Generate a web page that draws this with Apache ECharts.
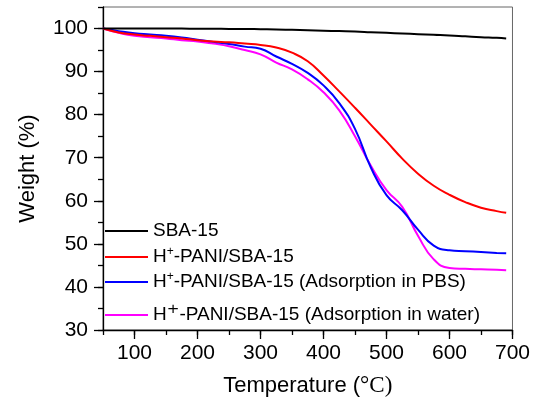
<!DOCTYPE html>
<html>
<head>
<meta charset="utf-8">
<script src="https://cdn.jsdelivr.net/npm/echarts@6/dist/echarts.min.js"></script>
<style>html,body{margin:0;padding:0;background:#fff}#c{width:533px;height:402px}</style>
</head>
<body>
<div id="c"></div>
<script>
var temps = [50, 75, 100, 125, 150, 175, 200, 225, 250, 275, 300, 325, 350, 375, 400, 425, 450, 475, 500, 525, 550, 575, 600, 625, 650, 675, 690];
var sba15 = [100, 100, 100, 100, 100, 100, 99.95, 99.95, 99.9, 99.9, 99.85, 99.8, 99.7, 99.6, 99.5, 99.4, 99.3, 99.15, 99.0, 98.85, 98.7, 98.55, 98.4, 98.2, 98.0, 97.85, 97.7];
var pani = [100, 99.1, 98.6, 98.3, 98.0, 97.7, 97.3, 97.0, 96.8, 96.5, 96.2, 95.6, 94.4, 92.4, 89.1, 85.4, 81.6, 77.7, 73.8, 69.8, 66.3, 63.5, 61.4, 59.7, 58.4, 57.6, 57.2];
var panipbs = [100, 99.4, 98.9, 98.6, 98.3, 97.9, 97.4, 96.9, 96.4, 95.8, 95.3, 93.5, 91.8, 89.7, 86.8, 82.7, 76.7, 67.8, 61.3, 57.8, 53.3, 49.6, 48.5, 48.3, 48.1, 47.9, 47.8];
var paniwater = [100, 99.0, 98.3, 98.0, 97.7, 97.3, 97.0, 96.5, 95.9, 95.0, 94.0, 92.1, 90.5, 88.2, 85.2, 81.0, 75.0, 68.2, 62.5, 58.6, 51.9, 46.4, 44.4, 44.2, 44.1, 44.0, 43.9];
var xTicks = [100, 200, 300, 400, 500, 600, 700];
var yTicks = [30, 40, 50, 60, 70, 80, 90, 100];
var names = ['SBA-15', 'H+-PANI/SBA-15', 'H+-PANI/SBA-15 (Adsorption in PBS)', 'H+-PANI/SBA-15 (Adsorption in water)'];
var colors = ['#000000', '#ff0000', '#0000ff', '#ff00ff'];
var values = [sba15, pani, panipbs, paniwater];

var FONT = 'Arial, "Liberation Sans", sans-serif';
function pairs(v) { return temps.map(function (t, i) { return [t, v[i]]; }); }

var series = values.map(function (v, i) {
  return {
    name: names[i], type: 'line', data: pairs(v), smooth: true, symbol: 'none',
    xAxisIndex: 0, yAxisIndex: 0,
    lineStyle: { color: colors[i], width: 2 }, itemStyle: { color: colors[i] }, z: 10 - i
  };
});

var rich = {
  n: { fontSize: 19, fontFamily: FONT, color: '#000', lineHeight: 22, verticalAlign: 'middle' },
  s: { fontSize: 12, fontFamily: FONT, color: '#000', lineHeight: 10, verticalAlign: 'top' },
  s2: { fontSize: 24, fontFamily: '"DejaVu Sans", sans-serif', color: '#000', lineHeight: 22, verticalAlign: 'middle' }
};
function fmt(name) {
  if (name.indexOf('H+') === 0) {
    var big = name.indexOf('water') >= 0;
    return '{n|H}' + (big ? '{s2|\u207A}' : '{s|+}') + '{n|' + name.slice(2) + '}';
  }
  return '{n|' + name + '}';
}
var rowY = [230, 256, 281, 315];
var legends = names.map(function (n, i) {
  return {
    data: [n], left: 105, top: rowY[i] - (i === 3 ? 12 : 10), padding: 0, itemWidth: 43, itemHeight: 2,
    icon: 'rect',
    formatter: fmt, textStyle: { rich: rich, fontSize: 19, lineHeight: 22, fontFamily: FONT, color: '#000' },
    selectedMode: false
  };
});

var axisBase = {
  axisLine: { show: true, lineStyle: { color: '#000', width: 1.3 } },
  splitLine: { show: false }
};

var chart = echarts.init(document.getElementById('c'), null, { renderer: 'canvas' });
chart.setOption({
  backgroundColor: '#fff',
  animation: false,
  legend: legends,
  grid: { left: 103, right: 20, top: 7, bottom: 72, show: true, borderColor: '#666', borderWidth: 1 },
  xAxis: [
    Object.assign({}, axisBase, {
      type: 'value', min: 50, max: 700, interval: 50, position: 'bottom',
      axisTick: { show: true, inside: false, length: 5, lineStyle: { color: '#000', width: 1.3 } },
      axisLabel: { customValues: xTicks, fontSize: 21, fontFamily: FONT, color: '#000', margin: 13 },
      name: '{a|Temperature (}{b|°C)}', nameLocation: 'middle', nameGap: 44,
      nameTextStyle: { rich: { a: { fontSize: 22, fontFamily: FONT, color: '#000' }, b: { fontSize: 23, fontFamily: '"Liberation Serif", "Times New Roman", serif', color: '#000' } } }
    }),
    {
      type: 'value', min: 50, max: 700, interval: 50, position: 'bottom', offset: 0,
      axisLine: { show: false }, splitLine: { show: false }, axisLabel: { show: false },
      axisTick: { show: true, length: 9, customValues: xTicks, lineStyle: { color: '#000', width: 1.3 } }
    }
  ],
  yAxis: [
    Object.assign({}, axisBase, {
      type: 'value', min: 30, max: 105, interval: 5, position: 'left',
      axisTick: { show: true, inside: false, length: 5, lineStyle: { color: '#000', width: 1.3 } },
      axisLabel: { customValues: yTicks, fontSize: 21, fontFamily: FONT, color: '#000', margin: 15 },
      name: 'Weight (%)', nameLocation: 'middle', nameGap: 64, nameRotate: 90,
      nameTextStyle: { fontSize: 22, fontFamily: FONT, color: '#000' }
    }),
    {
      type: 'value', min: 30, max: 105, interval: 5, position: 'left', offset: 0,
      axisLine: { show: false }, splitLine: { show: false }, axisLabel: { show: false },
      axisTick: { show: true, length: 9, customValues: yTicks, lineStyle: { color: '#000', width: 1.3 } }
    }
  ],
  series: series
});
</script>
</body>
</html>
